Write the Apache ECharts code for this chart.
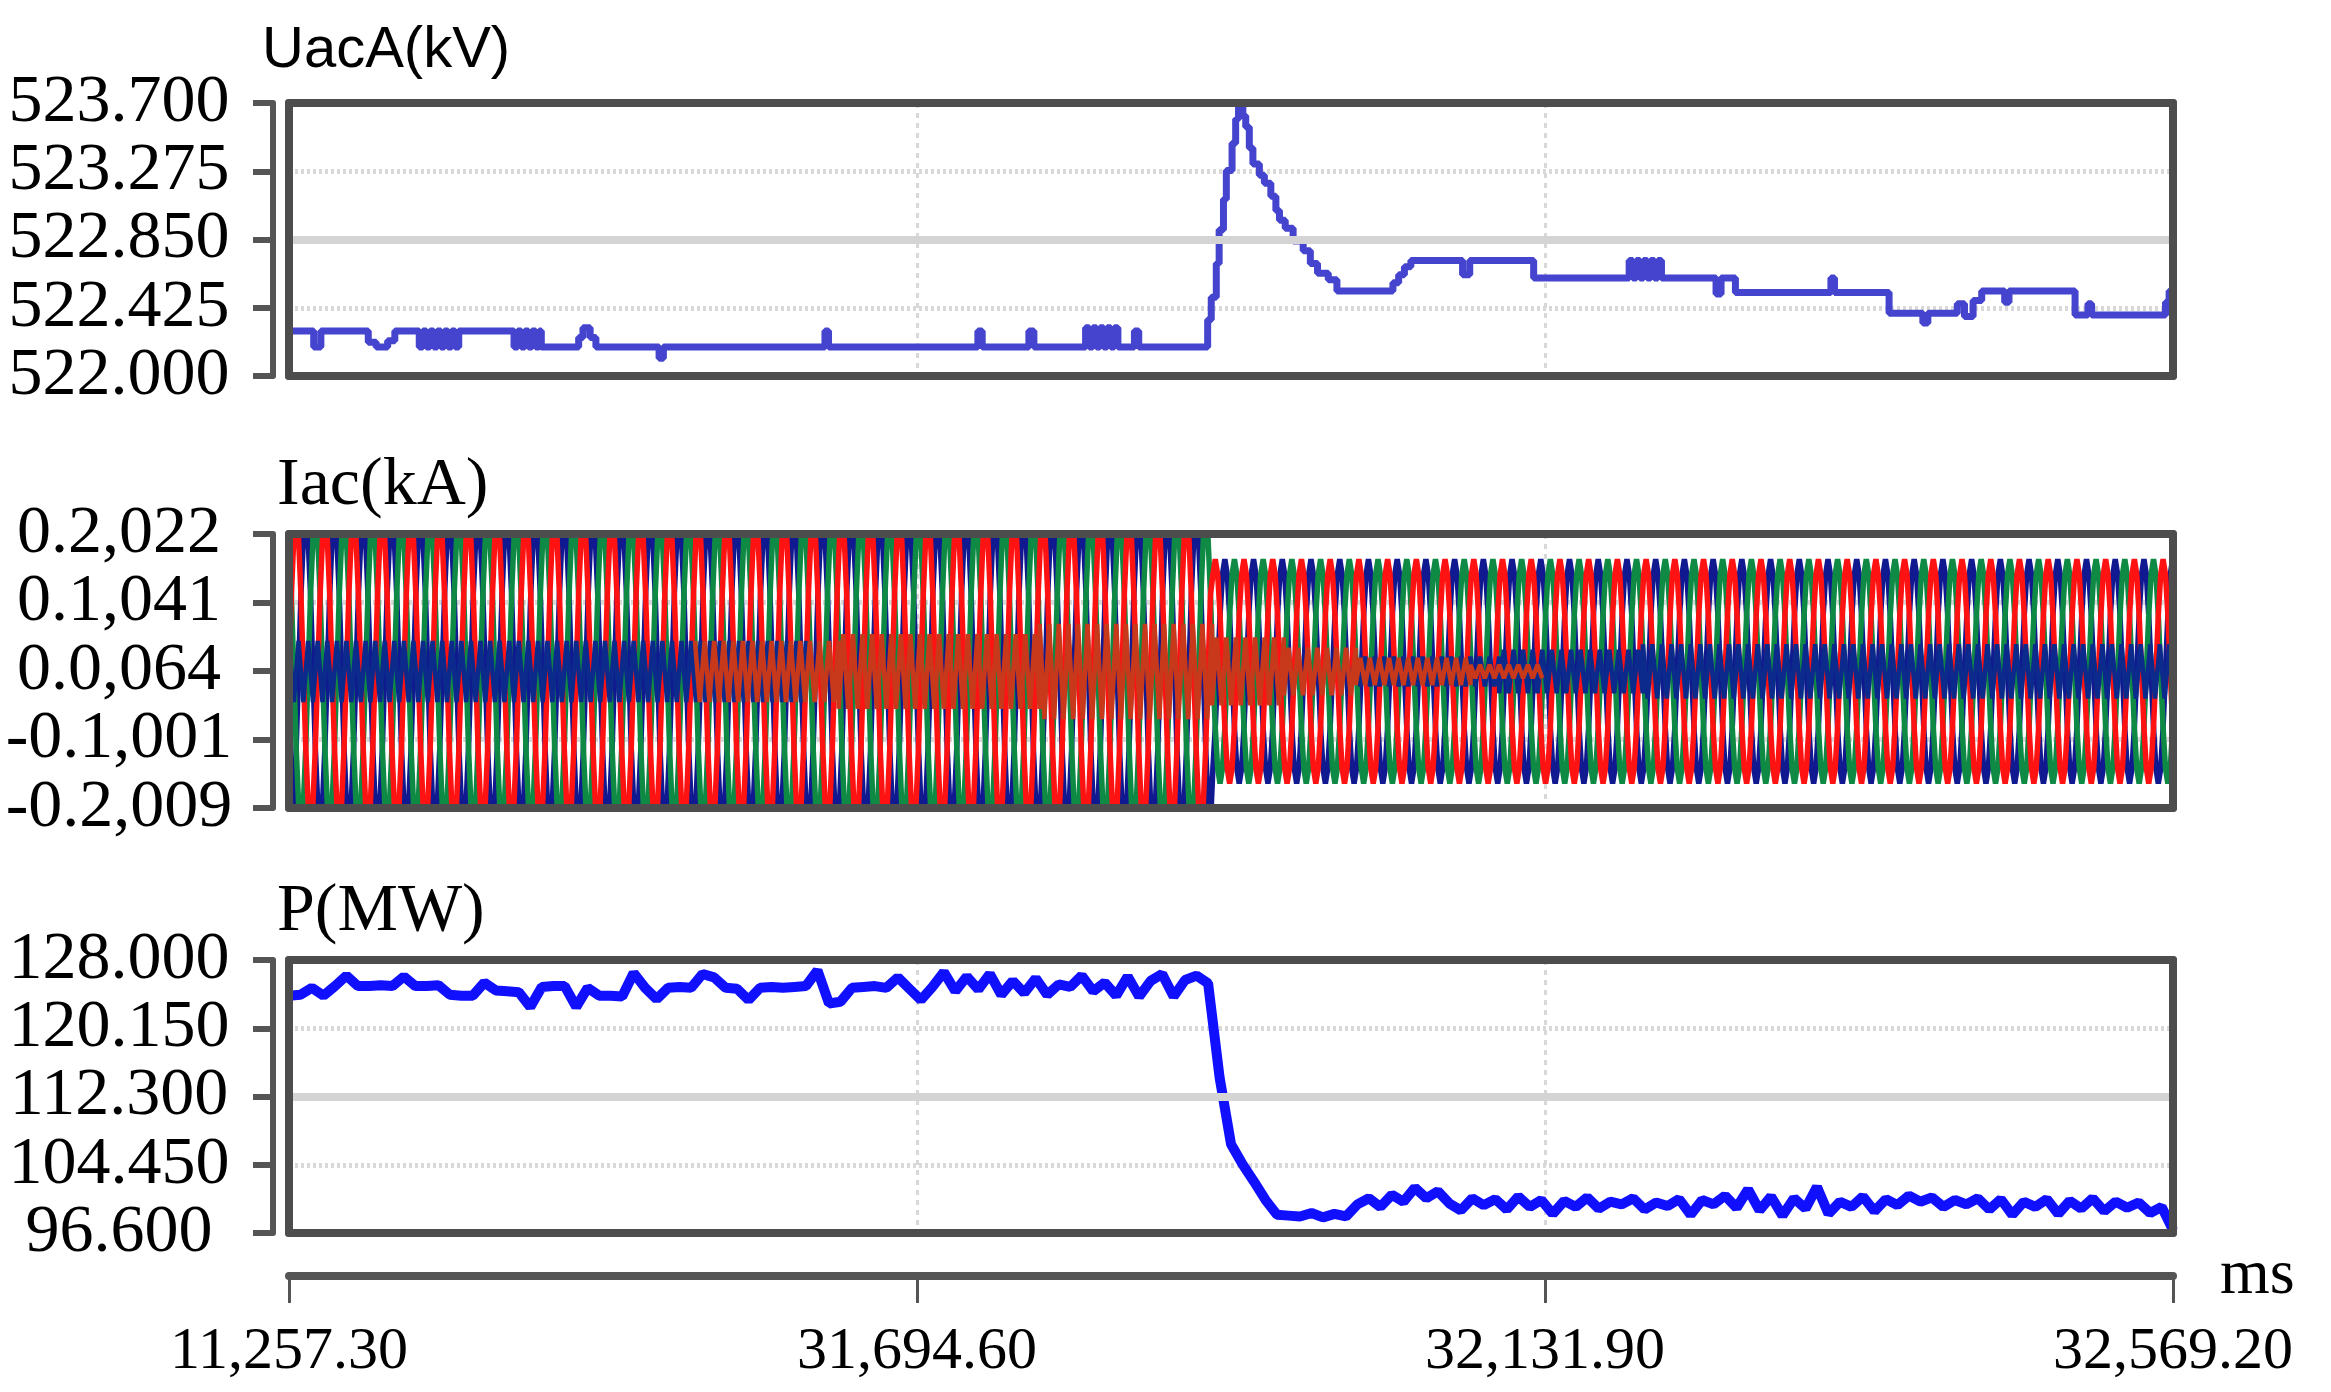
<!DOCTYPE html>
<html><head><meta charset="utf-8">
<script src="https://cdn.jsdelivr.net/npm/echarts@6/dist/echarts.min.js"></script>
<style>html,body{margin:0;padding:0;background:#fff}#c{width:2331px;height:1392px}</style>
</head><body><div id="c"></div>
<script>
// ---------- axis ticks ----------
const xTickValues = [31257.3, 31694.6, 32131.9, 32569.2];
const xTickLabels = ['11,257.30', '31,694.60', '32,131.90', '32,569.20'];
const xUnit = 'ms';
const uTickValues = [522.000, 522.425, 522.850, 523.275, 523.700];
const uTickLabels = ['522.000', '522.425', '522.850', '523.275', '523.700'];
const iTickValues = [-0.2009, -0.1001, 0.0064, 0.1041, 0.2022];
const iTickLabels = ['-0.2,009', '-0.1,001', '0.0,064', '0.1,041', '0.2,022'];
const pTickValues = [96.6, 104.45, 112.3, 120.15, 128.0];
const pTickLabels = ['96.600', '104.450', '112.300', '120.150', '128.000'];
const panelTitles = ['UacA(kV)', 'Iac(kA)', 'P(MW)'];

// ---------- UacA (kV): [time ms, value] steps ----------
const uacA = [
  [31257.3, 522.28],
  [31274.5, 522.18], [31279.5, 522.28],
  [31312.5, 522.21], [31318, 522.18], [31326, 522.22], [31331, 522.28],
  [31348, 522.18], [31350.5, 522.28], [31353, 522.18], [31355.5, 522.28], [31358, 522.18], [31360.5, 522.28],
  [31363, 522.18], [31365.5, 522.28], [31368, 522.18], [31370.5, 522.28], [31373, 522.18], [31375.5, 522.28],
  [31414, 522.18], [31416.5, 522.28], [31419, 522.18], [31421.5, 522.28], [31424, 522.18], [31426.5, 522.28],
  [31429, 522.18], [31431.5, 522.28], [31433, 522.18],
  [31459, 522.24], [31462, 522.30], [31467, 522.24], [31471, 522.18],
  [31515, 522.11], [31518, 522.18],
  [31630.5, 522.28], [31633, 522.18],
  [31737, 522.28], [31740, 522.18],
  [31772.5, 522.28], [31776, 522.18],
  [31812, 522.30], [31814.5, 522.18], [31817, 522.30], [31819.5, 522.18], [31822, 522.30], [31824.5, 522.18],
  [31827, 522.30], [31829.5, 522.18], [31832, 522.30], [31834.5, 522.18],
  [31846, 522.28], [31849, 522.18],
  [31897, 522.35], [31899.5, 522.49], [31903, 522.70], [31905, 522.91], [31908, 523.10], [31910, 523.28],
  [31914, 523.45], [31916.5, 523.60], [31918.5, 523.72],
  [31921.5, 523.62], [31923.5, 523.55], [31926, 523.42], [31928.5, 523.32], [31933, 523.25], [31936.5, 523.20],
  [31941, 523.12], [31944.5, 523.03], [31947, 522.97], [31951, 522.92], [31956.5, 522.84], [31963.5, 522.78],
  [31968.5, 522.70], [31973.5, 522.64], [31981, 522.60], [31987, 522.53],
  [32026, 522.58], [32030, 522.63], [32034, 522.68], [32038.5, 522.72],
  [32074.5, 522.63], [32079.5, 522.72],
  [32124, 522.61],
  [32190.5, 522.72], [32193, 522.61], [32195.5, 522.72], [32198, 522.61], [32200.5, 522.72], [32203, 522.61],
  [32205.5, 522.72], [32208, 522.61], [32210.5, 522.72], [32213, 522.61],
  [32251, 522.51], [32254.5, 522.61],
  [32264.5, 522.52],
  [32331, 522.61], [32333.5, 522.52],
  [32371.5, 522.39],
  [32395, 522.33], [32398.5, 522.39],
  [32419, 522.45], [32424, 522.37], [32430, 522.47], [32436, 522.53],
  [32452, 522.46], [32455, 522.53],
  [32501, 522.38],
  [32510, 522.45], [32512.5, 522.38],
  [32564, 522.46], [32566.5, 522.53], [32569.2, 522.53]
];

// ---------- P (MW): sampled every pStepMs from pStartMs ----------
const pStartMs = 31257.3;
const pStepMs = 8;
const pValues = [
  123.9, 124.0, 124.8, 123.9, 125.0, 126.2, 125.0, 125.0, 125.1, 125.0,
  126.1, 125.0, 125.0, 125.1, 124.0, 123.9, 123.9, 125.4, 124.5, 124.4,
  124.3, 122.6, 124.9, 125.0, 125.0, 122.6, 124.8, 123.9, 123.9, 123.8,
  126.5, 124.8, 123.5, 124.8, 124.9, 124.8, 126.4, 126.0, 124.8, 124.7,
  123.4, 124.8, 124.9, 124.8, 124.9, 125.0, 126.8, 123.0, 123.2, 124.8,
  124.9, 125.0, 124.8, 126.0, 124.7, 123.4, 124.9, 126.6, 124.4, 126.1,
  124.6, 126.4, 124.0, 125.6, 124.2, 125.9, 124.0, 125.2, 124.9, 126.2,
  124.4, 125.4, 123.9, 126.1, 123.8, 125.6, 126.4, 123.8, 125.7, 126.2,
  125.3,
  114.5, 106.8, 104.5, 102.5, 100.4, 98.7, 98.6, 98.5, 98.9, 98.4,
  98.8, 98.5, 99.9, 100.6, 99.6, 101.0, 100.2, 101.8, 100.6, 101.4,
  100.0, 99.2, 100.6, 99.8, 100.5, 99.3, 100.8, 99.6, 100.4, 98.8,
  100.3, 99.6, 100.7, 99.4, 100.2, 99.9, 100.6, 99.3, 100.1, 99.7,
  100.5, 98.7, 100.4, 99.9, 100.9, 99.5, 101.6, 99.2, 100.8, 98.6,
  100.6, 99.4, 101.9, 98.8, 100.2, 99.6, 100.8, 99.1, 100.5, 99.8,
  100.9, 100.2, 100.7, 99.6, 100.4, 99.9, 100.6, 99.3, 100.5, 98.7,
  100.2, 99.6, 100.5, 98.8, 100.3, 99.4, 100.6, 99.1, 100.2, 99.5,
  100.1, 98.9, 99.6, 96.9
];

// ---------- Iac (kA): three phases, one-cycle waveform table and amplitudes ----------
const iacCycleMs = 20;
const iacWave = [0, 0.5, 0.866, 1, 0.866, 0.5, 0, -0.5, -0.866, -1, -0.866, -0.5];
const iacPhaseShift = [8, 4, 0];           // navy, green, red
const iacAmpSegments = [[31257.3, 31899, 0.225], [31899, 32569.2, 0.165]];
// central residual band: [from ms, to ms, half-width kA]
const bandStepMs = 10 / 3;
const bandNavySegments = [[31257.3, 31620, 0.045], [31990, 32100, 0.022], [32100, 32200, 0.032], [32200, 32569.2, 0.04]];
const bandRedSegments = [[31540, 31640, 0.045], [31640, 31780, 0.055], [31780, 31900, 0.07], [31900, 31950, 0.05],
                         [31950, 32000, 0.035], [32000, 32080, 0.02], [32080, 32130, 0.01]];

// ---------- build ----------
const X0 = xTickValues[0], X1 = xTickValues[xTickValues.length - 1];
const xSpan = +(X1 - X0).toFixed(4);
const xInt = +(xSpan / (xTickValues.length - 1)).toFixed(4);
// y axes run in "tick units" (0..4); a value v maps to (v - first tick) / tick step
function yScale(ticks) {
  const n = ticks.length - 1;
  const step = (ticks[n] - ticks[0]) / n;
  return { n: n, f: v => (v - ticks[0]) / step };
}
const U = yScale(uTickValues), I = yScale(iTickValues), P = yScale(pTickValues);

const uacData = uacA.map(d => [d[0] - X0, U.f(d[1])]);
const pData = pValues.map((v, k) => [pStartMs + k * pStepMs - X0, P.f(v)]);

function ampAt(t) {
  for (const s of iacAmpSegments) if (t >= s[0] && t < s[1]) return s[2];
  return iacAmpSegments[iacAmpSegments.length - 1][2];
}
const iacSampleMs = iacCycleMs / iacWave.length;
function phaseData(shift) {
  const out = [];
  for (let n = 0; ; n++) {
    const t = X0 + n * iacSampleMs;
    if (t > X1 + iacSampleMs) break;
    out.push([t - X0, I.f(ampAt(t) * iacWave[(n + shift) % iacWave.length])]);
  }
  return out;
}
function bandData(segs) {
  const out = []; let sign = 1; let prevEnd = null;
  for (const [s, e, a] of segs) {
    if (prevEnd !== null && s - prevEnd > 1e-6) out.push([prevEnd - X0, '-']);
    for (let t = s; t <= e; t += bandStepMs) { out.push([t - X0, I.f(sign * a)]); sign = -sign; }
    prevEnd = e;
  }
  return out;
}

const serif = 'Liberation Serif';
const frameColor = '#4d4d4d';
const gridDefs = [
  { left: 289, right: 158, top: 103, height: 273 },
  { left: 289, right: 158, top: 534, height: 274 },
  { left: 289, right: 158, top: 960, height: 273 },
  { left: 289, right: 158, top: 1275, height: 1 }
];
const scales = [U, I, P];
const tickLabelSets = [uTickLabels, iTickLabels, pTickLabels];

const xAxes = [], yAxes = [];
for (let i = 0; i < 3; i++) {
  const sc = scales[i], labels = tickLabelSets[i];
  xAxes.push({ gridIndex: i, type: 'value', min: 0, max: xSpan, interval: xInt, position: 'bottom',
    axisLine: { show: false, onZero: false }, axisTick: { show: false }, axisLabel: { show: false },
    splitLine: { show: true, lineStyle: { color: '#d8d8d8', width: 3, type: [5, 5] } } });
  xAxes.push({ gridIndex: i, type: 'value', min: 0, max: xSpan, position: 'bottom', z: 10,
    axisLine: { show: true, onZero: false, lineStyle: { color: frameColor, width: 8 } },
    axisTick: { show: false }, axisLabel: { show: false }, splitLine: { show: false } });
  xAxes.push({ gridIndex: i, type: 'value', min: 0, max: xSpan, position: 'top', z: 10,
    axisLine: { show: true, onZero: false, lineStyle: { color: frameColor, width: 8 } },
    axisTick: { show: false }, axisLabel: { show: false }, splitLine: { show: false } });
  yAxes.push({ gridIndex: i, type: 'value', min: 0, max: sc.n, interval: 1, position: 'left', offset: 16,
    axisLine: { show: true, onZero: false, lineStyle: { color: '#555', width: 6 } },
    axisTick: { show: true, length: 20, lineStyle: { color: '#555', width: 6 } },
    axisLabel: { show: true, showMinLabel: true, showMaxLabel: true, hideOverlap: false, margin: 154, align: 'center',
      fontSize: 68, lineHeight: 56, fontFamily: serif, color: '#000',
      formatter: v => { const k = Math.round(v); return labels[k] !== undefined ? labels[k] : ''; } },
    splitLine: { show: true, lineStyle: { color: '#d9d9d9', width: 5, type: [3, 3] } } });
  yAxes.push({ gridIndex: i, type: 'value', min: 0, max: sc.n, position: 'left', z: 10,
    axisLine: { show: true, onZero: false, lineStyle: { color: frameColor, width: 8 } },
    axisTick: { show: false }, axisLabel: { show: false }, splitLine: { show: false } });
  yAxes.push({ gridIndex: i, type: 'value', min: 0, max: sc.n, position: 'right', z: 10,
    axisLine: { show: true, onZero: false, lineStyle: { color: frameColor, width: 8 } },
    axisTick: { show: false }, axisLabel: { show: false }, splitLine: { show: false } });
}
// shared time axis at bottom
xAxes.push({ gridIndex: 3, type: 'value', min: 0, max: xSpan, interval: xInt, position: 'bottom',
  axisLine: { show: true, onZero: false, lineStyle: { color: '#555', width: 8 } },
  axisTick: { show: true, length: 27, lineStyle: { color: '#555', width: 3 } },
  axisLabel: { show: true, showMinLabel: true, showMaxLabel: true, margin: 46, fontSize: 60, fontFamily: serif, color: '#000',
    formatter: v => { const k = Math.round(v / xInt); return xTickLabels[k] !== undefined ? xTickLabels[k] : ''; } },
  splitLine: { show: false },
  name: xUnit, nameLocation: 'end', nameGap: 47,
  nameTextStyle: { fontSize: 64, fontFamily: serif, color: '#000', verticalAlign: 'middle' } });
yAxes.push({ gridIndex: 3, type: 'value', min: 0, max: 1, show: false });

function midLine(i, sc) {
  return { type: 'line', xAxisIndex: 3 * i, yAxisIndex: 3 * i, data: [], z: 1, silent: true,
    markLine: { symbol: 'none', silent: true, animation: false, label: { show: false },
      lineStyle: { color: '#d4d4d4', width: 8, type: 'solid' },
      data: [{ yAxis: sc.n / 2 }] } };
}

const phaseColors = ['#10198f', '#0e8a44', '#ff1212'];
const series = [
  midLine(0, U),
  { type: 'line', name: panelTitles[0], xAxisIndex: 0, yAxisIndex: 0, data: uacData, step: 'end',
    showSymbol: false, lineStyle: { color: '#4444cf', width: 7 }, z: 3 },
];
iacPhaseShift.forEach((sh, j) => series.push({ type: 'line', xAxisIndex: 3, yAxisIndex: 3, data: phaseData(sh),
  showSymbol: false, lineStyle: { color: phaseColors[j], width: 5.5 }, z: 3 }));
series.push({ type: 'line', xAxisIndex: 3, yAxisIndex: 3, data: bandData(bandNavySegments),
  showSymbol: false, connectNulls: false, lineStyle: { color: '#0c2a8c', width: 4.5 }, z: 4 });
series.push({ type: 'line', xAxisIndex: 3, yAxisIndex: 3, data: bandData(bandRedSegments),
  showSymbol: false, connectNulls: false, lineStyle: { color: '#c8381a', width: 4.5 }, z: 4 });
series.push(midLine(2, P));
series.push({ type: 'line', name: panelTitles[2], xAxisIndex: 6, yAxisIndex: 6, data: pData,
  showSymbol: false, lineStyle: { color: '#1010ff', width: 10 }, z: 3 });

const option = {
  animation: false,
  backgroundColor: '#ffffff',
  title: [
    { text: panelTitles[0], left: 262, top: 22, padding: 0,
      textStyle: { fontFamily: 'Liberation Sans', fontSize: 58, fontWeight: 'normal', color: '#000' } },
    { text: panelTitles[1], left: 277, top: 452, padding: 0,
      textStyle: { fontFamily: serif, fontSize: 68, fontWeight: 'normal', color: '#000' } },
    { text: panelTitles[2], left: 277, top: 878, padding: 0,
      textStyle: { fontFamily: serif, fontSize: 68, fontWeight: 'normal', color: '#000' } }
  ],
  grid: gridDefs,
  xAxis: xAxes,
  yAxis: yAxes,
  series: series
};
const chart = echarts.init(document.getElementById('c'), null, { renderer: 'canvas', width: 2331, height: 1392 });
chart.setOption(option);
</script></body></html>
